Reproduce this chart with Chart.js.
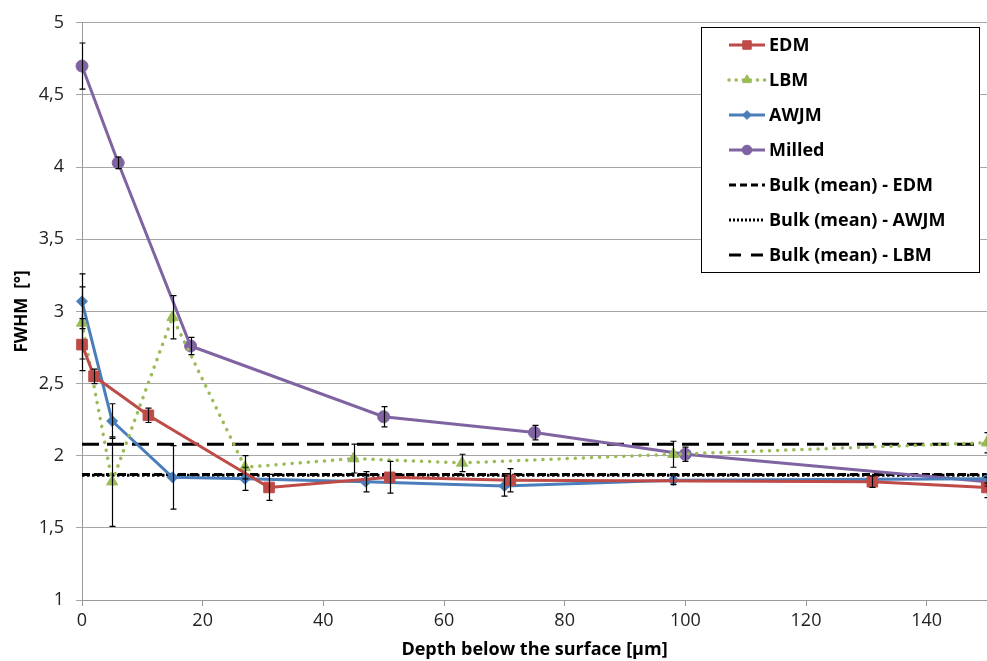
<!DOCTYPE html>
<html><head><meta charset="utf-8">
<script src="https://cdn.jsdelivr.net/npm/chart.js@4.4.1/dist/chart.umd.min.js"></script>
<style>body{margin:0;background:#fff}#wrap{width:987px;height:661px}</style>
</head><body>
<div id="wrap"><canvas id="c" width="987" height="661"></canvas></div>
<script>
// depth [µm] and FWHM [°]
const edmX = [0, 2, 11, 31, 51, 71, 131, 150];
const edmY = [2.77, 2.55, 2.28, 1.78, 1.85, 1.83, 1.82, 1.78];
const edmErr = [0.18, 0.05, 0.05, 0.09, 0.11, 0.08, 0.04, 0.07];
const lbmX = [0, 5, 15, 27, 45, 63, 98, 150];
const lbmY = [2.92, 1.82, 2.96, 1.92, 1.98, 1.95, 2.01, 2.09];
const lbmErr = [0.25, 0.31, 0.15, 0.08, 0.1, 0.06, 0.09, 0.07];
const awjmX = [0, 5, 15, 27, 47, 70, 98, 150];
const awjmY = [3.07, 2.24, 1.85, 1.84, 1.82, 1.79, 1.83, 1.84];
const awjmErr = [0.19, 0.12, 0.22, 0.08, 0.07, 0.07, 0.03, 0.03];
const milledX = [0, 6, 18, 50, 75, 100, 150];
const milledY = [4.70, 4.03, 2.76, 2.27, 2.16, 2.01, 1.82];
const milledErr = [0.16, 0.04, 0.06, 0.07, 0.05, 0.05, 0.03];
const bulkX = [0, 150];
const bulkEDM = 1.87, bulkAWJM = 1.865, bulkLBM = 2.08;
const seriesNames = ['EDM', 'LBM', 'AWJM', 'Milled', 'Bulk (mean) - EDM', 'Bulk (mean) - AWJM', 'Bulk (mean) - LBM'];

const pts = (xs, ys) => xs.map((x, i) => ({x, y: ys[i]}));
const flat = v => bulkX.map(x => ({x, y: v}));
const FONT = "'Open Sans', sans-serif";

const errBars = {
  id: 'errBars',
  afterDatasetsDraw(chart) {
    const {ctx, scales: {x, y}} = chart;
    ctx.save(); ctx.strokeStyle = '#000'; ctx.lineWidth = 1.2;
    chart.data.datasets.forEach(ds => {
      if (!ds.err) return;
      ds.data.forEach((p, i) => {
        const px = Math.round(x.getPixelForValue(p.x)) + 0.5;
        const t = y.getPixelForValue(p.y + ds.err[i]), b = y.getPixelForValue(p.y - ds.err[i]);
        ctx.beginPath();
        ctx.moveTo(px, t); ctx.lineTo(px, b);
        ctx.moveTo(px - 3, t); ctx.lineTo(px + 3, t);
        ctx.moveTo(px - 3, b); ctx.lineTo(px + 3, b);
        ctx.stroke();
      });
    });
    ctx.restore();
  }
};

const boxLegend = {
  id: 'boxLegend',
  afterDraw(chart) {
    const ctx = chart.ctx;
    const L = 701, T = 27, W = 278, H = 245;
    ctx.save();
    ctx.fillStyle = '#fff'; ctx.fillRect(L, T, W, H);
    ctx.strokeStyle = '#000'; ctx.lineWidth = 1; ctx.strokeRect(L + 0.5, T + 0.5, W, H);
    chart.data.datasets.forEach((ds, i) => {
      const cy = T + 18 + i * 35;
      ctx.save();
      ctx.strokeStyle = ds.borderColor; ctx.lineWidth = ds.borderWidth;
      ctx.setLineDash(ds.legendDash || ds.borderDash || []);
      ctx.lineCap = ds.borderCapStyle || 'butt';
      ctx.beginPath(); ctx.moveTo(729, cy); ctx.lineTo(765, cy); ctx.stroke();
      ctx.restore();
      if (ds.pointRadius > 0) {
        ctx.fillStyle = ds.backgroundColor; ctx.strokeStyle = ds.borderColor;
        Chart.helpers.drawPoint(ctx, {pointStyle: ds.pointStyle, radius: ds.pointRadius * 0.8, rotation: 0, borderWidth: 1}, 747, cy);
      }
      ctx.fillStyle = '#000';
      ctx.font = "bold 18px 'Open Sans', sans-serif";
      ctx.textBaseline = 'middle';
      ctx.fillText(seriesNames[i], 769, cy + 1);
    });
    ctx.restore();
  }
};

const line = (label, data, color, extra) => Object.assign({
  label, data, borderColor: color, backgroundColor: color, borderWidth: 3,
  showLine: true, pointRadius: 5.5, pointBorderWidth: 1, clip: 8
}, extra);

new Chart(document.getElementById('c'), {
  type: 'scatter',
  data: {
    datasets: [
      line('EDM', pts(edmX, edmY), '#BE4B48', {pointStyle: 'rect', pointRadius: 7.5, err: edmErr}),
      line('LBM', pts(lbmX, lbmY), '#9BBB59', {pointStyle: 'triangle', pointRadius: 6.5, borderDash: [0.1, 8], borderCapStyle: 'round', borderWidth: 3.5, legendDash: [0.1, 7], err: lbmErr}),
      line('AWJM', pts(awjmX, awjmY), '#4A7EBB', {pointStyle: 'rectRot', pointRadius: 5.5, err: awjmErr}),
      line('Milled', pts(milledX, milledY), '#8064A2', {pointStyle: 'circle', pointRadius: 6, err: milledErr}),
      line('Bulk (mean) - EDM', flat(bulkEDM), '#000', {pointRadius: 0, borderDash: [8, 4], legendDash: [7, 4]}),
      line('Bulk (mean) - AWJM', flat(bulkAWJM), '#000', {pointRadius: 0, borderDash: [2.5, 2.5], legendDash: [2, 2]}),
      line('Bulk (mean) - LBM', flat(bulkLBM), '#000', {pointRadius: 0, borderDash: [17, 8], legendDash: [12, 10]})
    ]
  },
  options: {
    responsive: false,
    animation: false,
    layout: {autoPadding: false, padding: {top: 18, right: 0, left: 0, bottom: 0}},
    plugins: {legend: {display: false}, tooltip: {enabled: false}},
    scales: {
      x: {
        type: 'linear', min: 0, max: 150,
        afterBuildTicks: s => { s.ticks = s.ticks.filter(t => t.value % 20 === 0); },
        afterFit: s => { s.height = 61; },
        ticks: {stepSize: 20, color: '#222', font: {family: FONT, size: 18}, padding: 4, maxRotation: 0},
        grid: {drawOnChartArea: false, drawTicks: true, tickLength: 6, color: '#999'},
        border: {color: '#999', width: 1},
        title: {display: true, text: 'Depth below the surface [µm]', color: '#000', font: {family: FONT, size: 18, weight: 'bold'}, padding: {top: -2, bottom: 0}}
      },
      y: {
        min: 1, max: 5,
        afterFit: s => { s.width = 82; },
        ticks: {stepSize: 0.5, color: '#222', font: {family: FONT, size: 18}, padding: 12,
          callback: v => String(v).replace('.', ',')},
        grid: {color: '#a6a6a6', lineWidth: 1, tickLength: 6},
        border: {color: '#999', width: 1},
        title: {display: true, text: 'FWHM  [°]', color: '#000', font: {family: FONT, size: 17, weight: 'bold'}, padding: {top: 12, bottom: 4}}
      }
    }
  },
  plugins: [errBars, boxLegend]
});
</script>
</body></html>
